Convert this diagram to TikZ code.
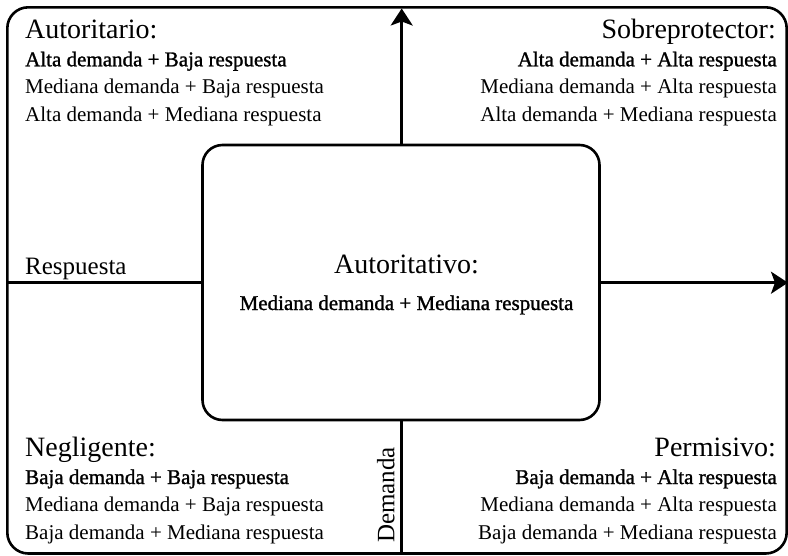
\documentclass[tikz,border=0pt]{standalone}
\usepackage{fontspec}
\setmainfont{Liberation Serif}
\newfontfamily\semib[FakeBold=1.2]{Liberation Serif}
\usetikzlibrary{arrows.meta}
\begin{document}
\begin{tikzpicture}[x=1pt,y=-1pt,
  axis/.style={line width=2.6pt, -{Stealth[length=17pt,width=22pt,inset=4pt]}},
  frame/.style={line width=2.6pt, rounded corners=21pt},
  ttl/.style={inner sep=0pt, font=\fontsize{28}{30}\selectfont},
  txt/.style={inner sep=0pt, font=\fontsize{21}{24}\selectfont},
  txtb/.style={inner sep=0pt, font=\semib\fontsize{21}{24}\selectfont},
  axlab/.style={inner sep=0pt, font=\fontsize{25}{28}\selectfont}]
\useasboundingbox (0,0) rectangle (788,555);
\draw[frame] (7.3,7.3) rectangle (786.7,553.5);
\coordinate (hl) at (7.3,282.7);
\coordinate (hr) at (788,282.7);
\coordinate (vb) at (401.7,553.5);
\coordinate (vt) at (401.7,8.5);
\draw[axis] (hl) -- (hr);
\draw[axis] (vb) -- (vt);
\node[draw, line width=2.6pt, rounded corners=20pt, fill=white, minimum width=397pt, minimum height=275pt, inner sep=0pt] (mid) at (401,282.5) {};
% center
\node[ttl, anchor=base] (ct) at (406.5,273.3) {Autoritativo:};
\node[txtb, anchor=base] (c1) at (406.5,310) {Mediana demanda + Mediana respuesta};
% top-left
\node[ttl, anchor=base west] (tlt) at (25,38.8) {Autoritario:};
\node[txtb, anchor=base west] (tl1) at (25,66.3) {Alta demanda + Baja respuesta};
\node[txt, anchor=base west] (tl2) at (25,93.8) {Mediana demanda + Baja respuesta};
\node[txt, anchor=base west] (tl3) at (25,121.3) {Alta demanda + Mediana respuesta};
% top-right
\node[ttl, anchor=base east] (trt) at (776,38.8) {Sobreprotector:};
\node[txtb, anchor=base east] (tr1) at (777,66.3) {Alta demanda + Alta respuesta};
\node[txt, anchor=base east] (tr2) at (777,93.8) {Mediana demanda + Alta respuesta};
\node[txt, anchor=base east] (tr3) at (777,121.3) {Alta demanda + Mediana respuesta};
% bottom-left
\node[ttl, anchor=base west] (blt) at (25,456.5) {Negligente:};
\node[txtb, anchor=base west] (bl1) at (25,484) {Baja demanda + Baja respuesta};
\node[txt, anchor=base west] (bl2) at (25,511.5) {Mediana demanda + Baja respuesta};
\node[txt, anchor=base west] (bl3) at (25,539) {Baja demanda + Mediana respuesta};
% bottom-right
\node[ttl, anchor=base east] (brt) at (776,456.5) {Permisivo:};
\node[txtb, anchor=base east] (br1) at (777,484) {Baja demanda + Alta respuesta};
\node[txt, anchor=base east] (br2) at (777,511.5) {Mediana demanda + Alta respuesta};
\node[txt, anchor=base east] (br3) at (777,539) {Baja demanda + Mediana respuesta};
% axis labels
\node[axlab, anchor=base west] (resp) at (25,274) {Respuesta};
\node[axlab, rotate=90, anchor=base west] (dem) at (394.3,543) {Demanda};
\end{tikzpicture}
\end{document}
